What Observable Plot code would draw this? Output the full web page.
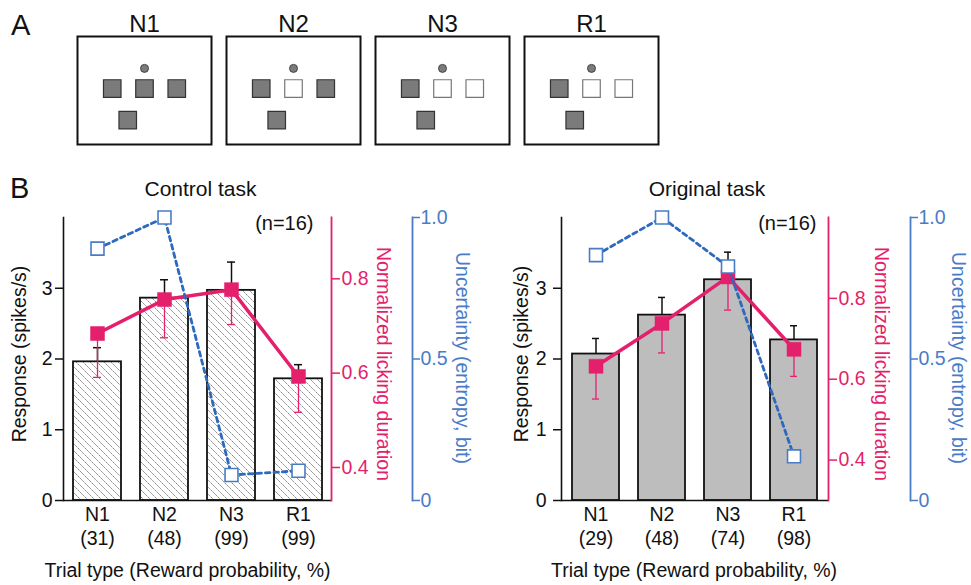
<!DOCTYPE html>
<html>
<head>
<meta charset="utf-8">
<script src="https://cdn.jsdelivr.net/npm/d3@7"></script>
<script src="https://cdn.jsdelivr.net/npm/@observablehq/plot@0.6"></script>
<style>
  html, body { margin: 0; padding: 0; background: #fff; }
  #fig { position: relative; width: 971px; height: 585px; overflow: hidden;
         font-family: "Liberation Sans", Arial, sans-serif; }
  .letter { position: absolute; font-size: 29px; line-height: 1; color: #111; }
</style>
</head>
<body>
<div id="fig"></div>
<script>
// ---------- data ----------
const conds = ["N1", "N2", "N3", "R1"];

// Panel A: which targets are filled (1) or empty (0) in each trial type
const leftTargetFilled   = [1, 1, 1, 1];
const middleTargetFilled = [1, 0, 0, 0];
const rightTargetFilled  = [1, 1, 0, 0];
const bottomTargetFilled = [1, 1, 1, 1];

// Panel B, control task
const ctrlProb       = [31, 48, 99, 99];
const ctrlResponse   = [1.96, 2.86, 2.97, 1.72];
const ctrlRespErr    = [0.20, 0.26, 0.40, 0.20];
const ctrlLicking    = [0.684, 0.756, 0.777, 0.593];
const ctrlLickErr    = [0.093, 0.081, 0.074, 0.076];
const ctrlEntropy    = [0.89, 1.0, 0.09, 0.105];

// Panel B, original task
const origProb       = [29, 48, 74, 98];
const origResponse   = [2.07, 2.62, 3.12, 2.27];
const origRespErr    = [0.22, 0.25, 0.39, 0.20];
const origLicking    = [0.632, 0.738, 0.853, 0.674];
const origLickErr    = [0.081, 0.073, 0.082, 0.067];
const origEntropy    = [0.867, 1.0, 0.827, 0.156];

const responseTicks = [0, 1, 2, 3];
const lickTicks     = [0.4, 0.6, 0.8];
const entropyTicks  = [0, 0.5, 1.0];

// ---------- style ----------
const FONT = '"Liberation Sans", Arial, sans-serif';
const PINK = "#e41f6c";
const BLUE = "#4a7cc6";
const BLUE_LINE = "#2e69c0";
const FS = 19.5;

const fig = document.getElementById("fig");

function letter(txt, left, top) {
  const d = document.createElement("div");
  d.className = "letter";
  d.textContent = txt;
  d.style.left = left + "px";
  d.style.top = top + "px";
  fig.appendChild(d);
}
function place(el, left, top) {
  el.style.position = "absolute";
  el.style.left = left + "px";
  el.style.top = top + "px";
  el.style.maxWidth = "none";
  fig.appendChild(el);
}

// ---------- Panel A ----------
const schematic = [];
conds.forEach((c, i) => {
  schematic.push({cond: c, kind: "fix", x: 0, y: 0.62, filled: 1});
  schematic.push({cond: c, kind: "target", x: -1, y: 0, filled: leftTargetFilled[i]});
  schematic.push({cond: c, kind: "target", x: 0, y: 0, filled: middleTargetFilled[i]});
  schematic.push({cond: c, kind: "target", x: 1, y: 0, filled: rightTargetFilled[i]});
  schematic.push({cond: c, kind: "target", x: -0.52, y: -0.97, filled: bottomTargetFilled[i]});
});

const panelA = Plot.plot({
  width: 971, height: 160,
  marginLeft: 76, marginRight: 311, marginTop: 36, marginBottom: 16,
  style: {background: "transparent", fontFamily: FONT, overflow: "visible"},
  fx: {domain: conds, paddingInner: 0.1, paddingOuter: 0},
  x: {domain: [-2.077, 2.077], axis: null},
  y: {domain: [-1.72, 1.6], axis: null},
  marks: [
    Plot.frame({stroke: "#111", strokeWidth: 2}),
    Plot.axisFx({anchor: "top", tickSize: 0, tickPadding: 5, fontSize: 24, label: null, color: "#111"}),
    Plot.dot(schematic.filter(d => d.kind === "target"), {
      fx: "cond", x: "x", y: "y", symbol: "square", r: 9.9,
      fill: d => d.filled ? "#7b7b7b" : "white",
      stroke: d => d.filled ? "#333" : "#777", strokeWidth: 1.2
    }),
    Plot.dot(schematic.filter(d => d.kind === "fix"), {
      fx: "cond", x: "x", y: "y", r: 4, fill: "#7b7b7b", stroke: "#444", strokeWidth: 1
    })
  ]
});
place(panelA, 0, 0);
letter("A", 11, 11);
letter("B", 10, 174);

// ---------- Panel B ----------
const H = 425, MT = 57, MB = 85;

function chart(cfg) {
  const rows = conds.map((c, i) => ({
    cond: c, prob: cfg.prob[i], resp: cfg.resp[i], respErr: cfg.respErr[i],
    lick: cfg.lick[i], lickErr: cfg.lickErr[i], ent: cfg.ent[i]
  }));
  const probMap = new Map(rows.map(d => [d.cond, d.prob]));
  const dims = {
    width: cfg.width, height: H,
    marginLeft: cfg.marginLeft, marginRight: cfg.marginRight,
    marginTop: MT, marginBottom: MB,
    style: {background: "transparent", fontFamily: FONT, overflow: "visible", color: "#111"}
  };
  const xBase = {type: "band", domain: conds, paddingInner: 0.29, paddingOuter: 0.145, align: 0.5};

  const base = Plot.plot({
    ...dims,
    x: {...xBase},
    y: {domain: [0, 4]},
    marks: [
      Plot.barY(rows, {x: "cond", y: "resp", fill: cfg.hatched ? "url(#hatch-" + cfg.id + ")" : "#bdbdbd",
                       stroke: "#111", strokeWidth: 1.8}),
      Plot.ruleX(rows, {x: "cond", y1: "resp", y2: d => d.resp + d.respErr, stroke: "#111", strokeWidth: 1.5}),
      Plot.tickY(rows, {x: "cond", y: d => d.resp + d.respErr, stroke: "#111", strokeWidth: 1.5,
                        insetLeft: 20, insetRight: 20}),
      Plot.axisY({ticks: responseTicks, tickFormat: d => String(d), tickSize: 8, tickPadding: cfg.yPad,
                  fontSize: FS, label: null, strokeWidth: 1.5}),
      Plot.axisX({tickFormat: d => d + "\n(" + probMap.get(d) + ")", tickSize: 0, tickPadding: 4,
                  fontSize: FS, lineHeight: 1.2, label: null}),
      Plot.frame({anchor: "left", stroke: "#111", strokeWidth: 1.6}),
      Plot.ruleY([0], {stroke: "#111", strokeWidth: 1.6}),
      Plot.text(["Response (spikes/s)"], {frameAnchor: "left", textAnchor: "middle", lineAnchor: "middle",
                                          rotate: -90, dx: cfg.respLabelDx, dy: -5, fontSize: FS, fill: "#111"}),
      Plot.text(["Trial type (Reward probability, %)"], {frameAnchor: "bottom", textAnchor: "middle",
                                          dy: 70, dx: cfg.xLabelDx, lineAnchor: "middle", fontSize: FS, fill: "#111"}),
      Plot.text([cfg.title], {frameAnchor: "top", textAnchor: "middle", dy: -28, dx: cfg.titleDx,
                              lineAnchor: "middle", fontSize: 21, fill: "#111"}),
      Plot.text(["(n=16)"], {frameAnchor: "top-right", dx: cfg.nDx, dy: 6, textAnchor: "end",
                             lineAnchor: "middle", fontSize: 20, fill: "#111"})
    ]
  });

  if (cfg.hatched) {
    d3.select(base).insert("defs", ":first-child").html(
      `<pattern id="hatch-${cfg.id}" patternUnits="userSpaceOnUse" width="7" height="7">
         <rect width="7" height="7" fill="white"/>
         <path d="M-1,-1L8,8M-1,6L1,8M6,-1L8,1" stroke="#555" stroke-width="0.8" stroke-dasharray="2,1"/>
       </pattern>`);
  }

  const pink = Plot.plot({
    ...dims,
    x: {...xBase, axis: null},
    y: {domain: cfg.lickDomain},
    marks: [
      Plot.ruleX(rows, {x: "cond", y1: "lick", y2: d => d.lick - d.lickErr, stroke: PINK, strokeWidth: 1.3}),
      Plot.tickY(rows, {x: "cond", y: d => d.lick - d.lickErr, stroke: PINK, strokeWidth: 1.3,
                        insetLeft: 20, insetRight: 20}),
      Plot.line(rows, {x: "cond", y: "lick", stroke: PINK, strokeWidth: 3.5}),
      Plot.dot(rows, {x: "cond", y: "lick", symbol: "square", r: 7.9, fill: PINK, stroke: PINK, strokeWidth: 0.5}),
      Plot.axisY({anchor: "right", ticks: lickTicks, tickFormat: d => d.toFixed(1), color: PINK,
                  tickSize: 8, tickPadding: 2, fontSize: FS, label: null, strokeWidth: 1.5}),
      Plot.frame({anchor: "right", stroke: PINK, strokeWidth: 1.8}),
      Plot.text(["Normalized licking duration"], {frameAnchor: "right", textAnchor: "middle", lineAnchor: "middle",
                                                  rotate: 90, dx: cfg.lickLabelDx, dy: 5, fontSize: FS, fill: PINK})
    ]
  });

  const blue = Plot.plot({
    ...dims,
    x: {...xBase, axis: null},
    y: {domain: [0, 1]},
    marks: [
      Plot.line(rows, {x: "cond", y: "ent", stroke: BLUE_LINE, strokeWidth: 2.8, strokeDasharray: "4.5,4"}),
      Plot.dot(rows, {x: "cond", y: "ent", symbol: "square", r: 7.3, fill: "white", stroke: BLUE, strokeWidth: 1.6}),
      Plot.axisY({anchor: "right", ticks: entropyTicks, tickFormat: d => d === 0 ? "0" : d.toFixed(1), color: BLUE,
                  tickSize: 7, tickPadding: 1, fontSize: FS, label: null, dx: cfg.blueDx, strokeWidth: 1.5}),
      Plot.frame({anchor: "right", stroke: BLUE, strokeWidth: 1.8, dx: cfg.blueDx}),
      Plot.text(["Uncertainty (entropy, bit)"], {frameAnchor: "right", textAnchor: "middle", lineAnchor: "middle",
                                                 rotate: 90, dx: cfg.entLabelDx, dy: -1, fontSize: FS, fill: BLUE})
    ]
  });

  place(base, cfg.left, 160);
  place(pink, cfg.left, 160);
  place(blue, cfg.left, 160);
}

chart({
  id: "ctrl", left: 0, width: 485, marginLeft: 63, marginRight: 154, hatched: true,
  prob: ctrlProb, resp: ctrlResponse, respErr: ctrlRespErr, lick: ctrlLicking, lickErr: ctrlLickErr, ent: ctrlEntropy,
  lickDomain: [0.33, 0.93], title: "Control task", titleDx: 3, nDx: -18, xLabelDx: -10,
  respLabelDx: -44, lickLabelDx: 52, entLabelDx: 131, blueDx: 81, yPad: 3
});
chart({
  id: "orig", left: 485, width: 486, marginLeft: 76, marginRight: 143, hatched: false,
  prob: origProb, resp: origResponse, respErr: origRespErr, lick: origLicking, lickErr: origLickErr, ent: origEntropy,
  lickDomain: [0.3, 1.0], title: "Original task", titleDx: 12, nDx: -12, xLabelDx: -1,
  respLabelDx: -40, lickLabelDx: 53, entLabelDx: 130, blueDx: 82, yPad: 7
});
</script>
</body>
</html>
